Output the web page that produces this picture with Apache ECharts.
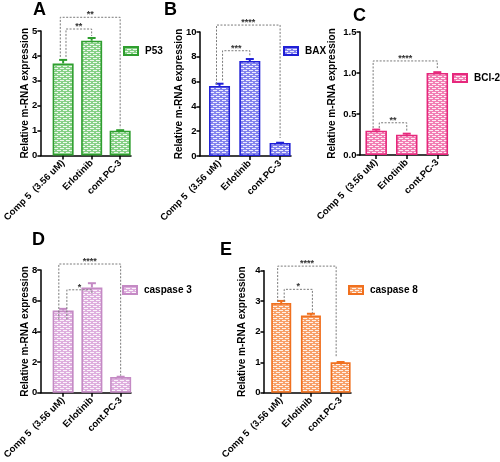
<!DOCTYPE html>
<html><head><meta charset="utf-8">
<script src="https://cdn.jsdelivr.net/npm/echarts@6/dist/echarts.min.js"></script>
<style>html,body{margin:0;padding:0;background:#fff}#c{width:500px;height:462px}</style>
</head><body><div id="c"></div>
<script>
// ---- data ----
const categories = ['Comp 5  (3.56 uM)', 'Erlotinib', 'cont.PC-3'];
const seriesNames = ['P53', 'BAX', 'BCI-2', 'caspase 3', 'caspase 8'];
const panelLetters = ['A', 'B', 'C', 'D', 'E'];
const p53 = [3.70, 4.61, 1.00];
const p53Err = [0.14, 0.11, 0.02];
const bax = [5.65, 7.66, 1.05];
const baxErr = [0.18, 0.16, 0.02];
const bcl2 = [0.296, 0.247, 1.00];
const bcl2Err = [0.014, 0.013, 0.01];
const casp3 = [5.36, 6.86, 1.03];
const casp3Err = [0.11, 0.28, 0.02];
const casp8 = [2.94, 2.53, 1.00];
const casp8Err = [0.07, 0.06, 0.01];
const yTicksMax = [5, 10, 1.5, 8, 4];
const yTicksStep = [1, 2, 0.5, 2, 1];
// significance brackets: [fromX, toX, top, leftDrop, rightDrop]
const sigA = [[-0.1, 2.0, 5.55, 3.96, 1.1], [0.1, 1.0, 5.08, 3.96, 4.8]];
const sigB = [[-0.1, 2.0, 10.56, 5.8, 1.45], [0.1, 1.0, 8.49, 6.1, 8.1]];
const sigC = [[-0.1, 2.0, 1.147, 0.33, 1.06], [0.1, 1.0, 0.393, 0.33, 0.28]];
const sigD = [[-0.15, 2.0, 8.39, 4.78, 1.12], [0.13, 1.0, 6.71, 4.78, 6.5]];
const sigE = [[-0.12, 1.85, 4.15, 2.99, 1.17], [0.1, 1.05, 3.39, 2.99, 2.62]];
const sigLabelsA = ['**', '**'];
const sigLabelsB = ['****', '***'];
const sigLabelsC = ['****', '**'];
const sigLabelsD = ['****', '*'];
const sigLabelsE = ['****', '*'];

const values = [p53, bax, bcl2, casp3, casp8];
const errs = [p53Err, baxErr, bcl2Err, casp3Err, casp8Err];
const sigs = [sigA, sigB, sigC, sigD, sigE];
const sigLabels = [sigLabelsA, sigLabelsB, sigLabelsC, sigLabelsD, sigLabelsE];

// ---- layout / style ----
const grids = [
  {left: 36, top: 31, width: 95, height: 124.6},
  {left: 200, top: 32, width: 91, height: 124},
  {left: 360, top: 32, width: 88, height: 123},
  {left: 36, top: 270, width: 95, height: 124},
  {left: 264, top: 270.7, width: 87, height: 123.3}
];
const xRange = [[-0.78, 2.38], [-0.645, 2.36], [-0.53, 2.35], [-0.78, 2.36], [-0.58, 2.35]];
const barW = [21, 21, 21.5, 21, 20];
const nameGaps = [11, 15.5, 22.5, 10, 16.5];
const legendPos = [[123, 46], [283, 46], [452, 73], [122, 285], [348, 285]];
const letterPos = [[40, 1], [171, 1], [360, 7], [39, 231], [227, 241]];
const borderColors = ['#2f9e2f', '#1f1fd6', '#e6287c', '#c48ac4', '#f0701e'];
const baseColors = ['#86d086', '#8282ee', '#f27db3', '#deaede', '#f8a068'];
const FONT = 'Liberation Sans, Arial, sans-serif';

function makePattern(base) {
  const cv = document.createElement('canvas');
  cv.width = 6; cv.height = 4;
  const g = cv.getContext('2d');
  g.fillStyle = base; g.fillRect(0, 0, 6, 4);
  g.fillStyle = 'rgba(255,255,255,0.85)';
  g.fillRect(0, 0, 4, 1);
  g.fillRect(3, 2, 3, 1);
  g.fillRect(0, 2, 1, 1);
  return {image: cv, repeat: 'repeat'};
}

const chart = echarts.init(document.getElementById('c'), null, {renderer: 'canvas'});

const option = {
  animation: false,
  backgroundColor: '#fff',
  title: panelLetters.map((t, i) => ({
    text: t, left: letterPos[i][0] - 7, top: letterPos[i][1], padding: 0,
    textStyle: {fontFamily: FONT, fontWeight: 'bold', fontSize: 18, color: '#000'}
  })),
  legend: seriesNames.map((n, i) => ({
    data: [n], left: legendPos[i][0], top: legendPos[i][1], padding: 0,
    itemWidth: 14, itemHeight: 8, itemGap: 0, icon: 'rect',
    selectedMode: false,
    textStyle: {fontFamily: FONT, fontWeight: 'bold', fontSize: 10, color: '#000', padding: [0, 0, 0, 2]}
  })),
  grid: grids.map(g => Object.assign({containLabel: false}, g)),
  xAxis: grids.map((g, i) => ({
    type: 'value', gridIndex: i, min: xRange[i][0], max: xRange[i][1],
    splitLine: {show: false},
    axisLine: {show: true, onZero: false, lineStyle: {color: '#000', width: 1.5}},
    axisTick: {show: true, length: 4, customValues: [0, 1, 2], lineStyle: {color: '#000', width: 1.5}},
    axisLabel: {
      customValues: [0, 1, 2], rotate: 45, margin: 6,
      formatter: v => categories[Math.round(v)] || '',
      fontFamily: FONT, fontWeight: 'bold', fontSize: 9.5, color: '#000'
    }
  })),
  yAxis: grids.map((g, i) => ({
    type: 'value', gridIndex: i, min: 0, max: yTicksMax[i], interval: yTicksStep[i],
    name: 'Relative m-RNA expression', nameLocation: 'middle', nameGap: nameGaps[i], nameRotate: 90,
    nameMoveOverlap: false,
    nameTextStyle: {fontFamily: FONT, fontWeight: 'bold', fontSize: 10, color: '#000'},
    splitLine: {show: false},
    axisLine: {show: true, onZero: false, lineStyle: {color: '#000', width: 1.5}},
    axisTick: {show: true, length: 3.5, lineStyle: {color: '#000', width: 1.5}},
    axisLabel: {
      margin: 3.5, fontFamily: FONT, fontWeight: 'bold', fontSize: 9.5, color: '#000',
      formatter: v => (yTicksStep[i] < 1 ? v.toFixed(1) : String(v))
    }
  })),
  series: []
};

values.forEach((vals, i) => {
  option.series.push({
    type: 'bar', name: seriesNames[i], xAxisIndex: i, yAxisIndex: i,
    barWidth: barW[i],
    data: vals.map((v, k) => [k, v]),
    itemStyle: {color: makePattern(baseColors[i]), borderColor: borderColors[i], borderWidth: 1.6}
  });
  const col = borderColors[i];
  option.series.push({
    type: 'custom', xAxisIndex: i, yAxisIndex: i, silent: true, z: 3,
    data: vals.map((v, k) => [k, v, errs[i][k]]),
    renderItem: (params, api) => {
      const x = api.value(0), v = api.value(1), e = api.value(2);
      const p0 = api.coord([x, v]), p1 = api.coord([x, v + e]);
      const hw = 4;
      return {type: 'group', children: [
        {type: 'line', shape: {x1: p0[0], y1: p0[1], x2: p1[0], y2: p1[1]}, style: {stroke: col, lineWidth: 2}},
        {type: 'line', shape: {x1: p1[0] - hw, y1: p1[1], x2: p1[0] + hw, y2: p1[1]}, style: {stroke: col, lineWidth: 2}}
      ]};
    }
  });
  option.series.push({
    type: 'custom', xAxisIndex: i, yAxisIndex: i, silent: true, z: 4, clip: false,
    data: sigs[i],
    renderItem: (params, api) => {
      const x1 = api.value(0), x2 = api.value(1), yt = api.value(2), y1 = api.value(3), y2 = api.value(4);
      const a = api.coord([x1, yt]), b = api.coord([x2, yt]);
      const c = api.coord([x1, y1]), d = api.coord([x2, y2]);
      return {type: 'group', children: [
        {type: 'polyline', shape: {points: [c, a, b, d]},
          style: {stroke: '#7a7a7a', lineWidth: 1, lineDash: [2, 1.5], fill: null}},
        {type: 'text', x: (a[0] + b[0]) / 2, y: a[1] + 2,
          style: {text: sigLabels[i][params.dataIndex], fill: '#333', font: 'bold 9px Liberation Sans, Arial',
            align: 'center', verticalAlign: 'bottom'}}
      ]};
    }
  });
});

chart.setOption(option);
</script></body></html>
